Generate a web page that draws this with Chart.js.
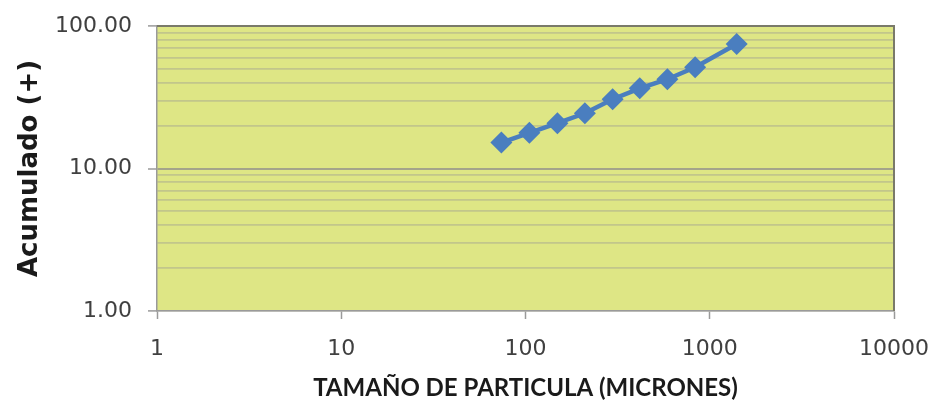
<!DOCTYPE html>
<html>
<head>
<meta charset="utf-8">
<script src="https://cdn.jsdelivr.net/npm/chart.js@4"></script>
<style>
  html, body { margin: 0; padding: 0; background: #fff; }
  #wrap { width: 933px; height: 403px; }
</style>
</head>
<body>
<div id="wrap"><canvas id="chart"></canvas></div>
<script>
// tamaño de particula (micrones) y porcentaje acumulado (+)
const tamanos = [74, 105, 149, 210, 297, 417, 589, 833, 1400];
const acumulado = [15.2, 17.8, 20.8, 24.4, 30.6, 36.5, 42.3, 51.3, 74.8];

const xTicks = [1, 10, 100, 1000, 10000];
const yTicks = [1, 2, 3, 4, 5, 6, 7, 8, 9, 10, 20, 30, 40, 50, 60, 70, 80, 90, 100];
const yMajor = [1, 10, 100];

const ctx = document.getElementById("chart").getContext("2d");

const plotArea = {
	id: 'plotArea',
	beforeDraw: (chart) => {
		const {ctx, chartArea: a} = chart;
		ctx.save();
		ctx.fillStyle = '#dee685';
		ctx.fillRect(a.left, a.top, a.right - a.left, a.bottom - a.top);
		ctx.restore();
	},
	afterDatasetsDraw: (chart) => {
		const {ctx, chartArea: a} = chart;
		ctx.save();
		ctx.strokeStyle = '#7a7a6a';
		ctx.lineWidth = 2;
		ctx.beginPath();
		ctx.moveTo(a.left, a.top);
		ctx.lineTo(a.right, a.top);
		ctx.lineTo(a.right, a.bottom);
		ctx.stroke();
		ctx.restore();
	}
};

const chart = new Chart(ctx, {
	type: "line",
	data: {
		datasets: [
			{
				data: tamanos.map((x, i) => ({x: x, y: acumulado[i]})),
				borderColor: '#4a7ebf',
				backgroundColor: '#4a7ebf',
				borderWidth: 4.5,
				pointStyle: 'rectRot',
				pointRadius: 11,
				pointBorderWidth: 0,
				tension: 0,
			}
		],
	},
	options: {
		responsive: true,
		maintainAspectRatio: false,
		animation: false,
		layout: {padding: {left: 0, right: 39, top: 26, bottom: 0}},
		scales: {
			x: {
				type: 'logarithmic',
				min: 1,
				max: 10000,
				afterBuildTicks: (scale) => { scale.ticks = xTicks.map(v => ({value: v})); },
				afterFit: (scale) => {
					scale.height = 92;
					scale.paddingLeft = 0;
					scale.paddingRight = 0;
				},
				ticks: {
					color: '#404040',
					font: {family: 'DejaVu Sans', size: 22},
					padding: 17,
					autoSkip: false,
					maxRotation: 0,
					callback: (value) => String(value),
				},
				grid: {
					drawOnChartArea: false,
					tickLength: 8,
					tickColor: '#9a9a9a',
					tickWidth: 1.5,
				},
				border: {color: '#9a9a9a', width: 1.5},
				title: {
					display: true,
					text: 'TAMAÑO DE PARTICULA (MICRONES)',
					color: '#1a1a1a',
					font: {family: 'Lato', size: 24, weight: 'bold'},
					padding: {top: 6, bottom: 0},
				}
			},
			y: {
				type: 'logarithmic',
				min: 1,
				max: 100,
				afterBuildTicks: (scale) => { scale.ticks = yTicks.map(v => ({value: v})); },
				afterFit: (scale) => {
					scale.width = 157;
					scale.paddingTop = 0;
					scale.paddingBottom = 0;
				},
				ticks: {
					color: '#404040',
					font: {family: 'DejaVu Sans', size: 22},
					padding: 16,
					autoSkip: false,
					callback: (value) => yMajor.includes(value) ? value.toFixed(2) : '',
				},
				grid: {
					color: (c) => c.tick && c.tick.value === 10 ? '#a4a48a' : 'rgba(165,165,145,0.5)',
					lineWidth: (c) => c.tick && c.tick.value === 10 ? 2 : 1.8,
					tickLength: 9,
					tickColor: (c) => c.tick && yMajor.includes(c.tick.value) ? '#9a9a9a' : 'rgba(0,0,0,0)',
					tickWidth: 1.5,
				},
				border: {color: '#9a9a9a', width: 1.5},
				title: {
					display: true,
					text: 'Acumulado (+)',
					color: '#1a1a1a',
					font: {family: 'DejaVu Sans', size: 26, weight: 'bold'},
					padding: {top: 15, bottom: 0},
				}
			}
		},
		plugins: {
			legend: {display: false},
			title: {display: false},
			tooltip: {enabled: false},
		},
	},
	plugins: [plotArea]
});
</script>
</body>
</html>
